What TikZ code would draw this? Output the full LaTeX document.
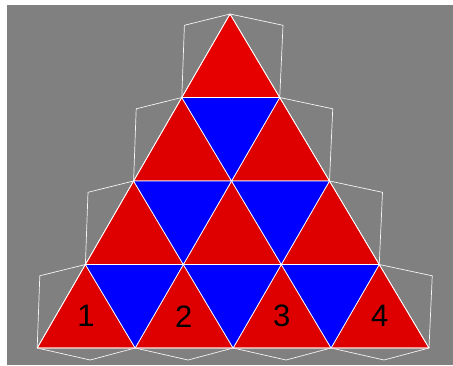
\documentclass[tikz,border=0pt]{standalone}
\usepackage{fontspec}
\setmainfont{Liberation Sans}
\usetikzlibrary{calc}
\definecolor{facered}{RGB}{222,0,0}
\definecolor{topred}{RGB}{230,0,0}
\definecolor{faceblue}{RGB}{0,0,255}
\definecolor{bggray}{RGB}{128,128,128}
\tikzset{
  grid edge/.style={white, line width=0.7pt, line join=round},
  rim edge/.style={white!92!gray, line width=0.7pt, line join=round},
  numlabel/.style={font=\fontsize{31}{31}\selectfont, text=black, inner sep=0pt}
}

\begin{document}
\begin{tikzpicture}[x=1pt,y=-1pt]
\useasboundingbox (0,0) rectangle (453,365);
\fill[white] (0,0) rectangle (453,365);
\fill[bggray] (7,5) rectangle (453,365);

\foreach \i in {0,...,4}
  \foreach \j in {0,...,4}
    {\ifnum\numexpr\i+\j\relax<5
       \coordinate (v\i\j) at ({230-48.2*\i+49.75*\j},{14+83.5*(\i+\j)});
     \fi}

\path (v00) ++(-45.6,11.3) coordinate (p1);
\path (v10) ++(-45.6,11.3) coordinate (p2);
\path (v20) ++(-45.6,11.3) coordinate (p3);
\path (v30) ++(-45.6,11.3) coordinate (p4);
\path (v00) ++(53,11.3) coordinate (q1);
\path (v01) ++(53,11.3) coordinate (q2);
\path (v02) ++(53,11.3) coordinate (q3);
\path (v03) ++(53,11.3) coordinate (q4);
\path (v40) ++(53,12) coordinate (m1);
\path (v31) ++(53,12) coordinate (m2);
\path (v22) ++(53,12) coordinate (m3);
\path (v13) ++(53,12) coordinate (m4);

\draw[rim edge] (v40) -- (p4) -- (v30) -- (p3) -- (v20) -- (p2) -- (v10) -- (p1) -- (v00)
  -- (q1) -- (v01) -- (q2) -- (v02) -- (q3) -- (v03) -- (q4) -- (v04);
\draw[rim edge] (v40) -- (m1) -- (v31) -- (m2) -- (v22) -- (m3) -- (v13) -- (m4) -- (v04);

\fill[facered] (v40) -- (v04) -- (v00) -- cycle;
\fill[topred] (v00) -- (v10) -- (v01) -- cycle;

\foreach \i/\j in {1/0,0/1,2/0,1/1,0/2,3/0,2/1,1/2,0/3}
  {\pgfmathtruncatemacro\ii{\i+1}
   \pgfmathtruncatemacro\jj{\j+1}
   \draw[grid edge, fill=facered] (v\i\j) -- (v\ii\j) -- (v\i\jj) -- cycle;}

\foreach \i/\j in {0/0,1/0,0/1,2/0,1/1,0/2}
  {\pgfmathtruncatemacro\ii{\i+1}
   \pgfmathtruncatemacro\jj{\j+1}
   \draw[grid edge, fill=faceblue] (v\ii\j) -- (v\i\jj) -- (v\ii\jj) -- cycle;}

\draw[grid edge] (v00) -- (v10) -- (v01) -- cycle;
\draw[grid edge] (v40) -- (v04) -- (v00) -- cycle;

\node[numlabel] (n1) at ($(v40)!0.5!(v31)!0.38!(v30)$) {1};
\node[numlabel] (n2) at ($(v31)!0.5!(v22)!0.38!(v21)$) {2};
\node[numlabel] (n3) at ($(v22)!0.5!(v13)!0.38!(v12)$) {3};
\node[numlabel] (n4) at ($(v13)!0.5!(v04)!0.38!(v03)$) {4};
\end{tikzpicture}
\end{document}
